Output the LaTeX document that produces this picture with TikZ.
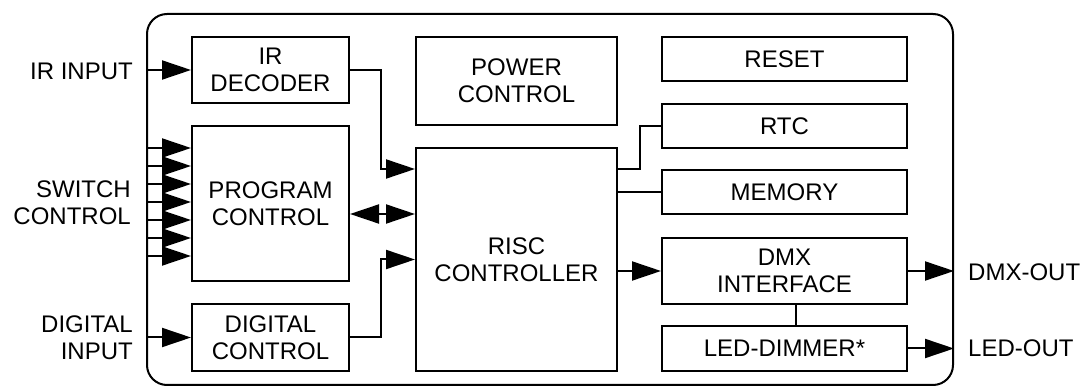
\documentclass[tikz,border=0pt]{standalone}
\usepackage{fontspec}
\setmainfont{Liberation Sans}
\usetikzlibrary{arrows.meta}

\tikzset{
  blk/.style={draw, line width=2pt, minimum width=157pt, inner sep=0pt, align=center},
  lbl/.style={inner sep=0pt},
  arr/.style={line width=2pt, -{Triangle[length=29pt,width=19pt]}},
  dblarr/.style={line width=2pt, {Triangle[length=29pt,width=19pt]}-{Triangle[length=29pt,width=19pt]}},
  wire/.style={line width=2pt}
}

\begin{document}
\begin{tikzpicture}[x=1pt,y=1pt,yscale=-1,xscale=1,font=\fontsize{24}{27}\selectfont]
\useasboundingbox (0,0) rectangle (1085,387);

%Shape: Rounded Rect [frame]
\node [draw, line width=2pt, rounded corners=20pt, minimum width=806pt, minimum height=371pt, inner sep=0pt] (frame) at (550,199.5) {};

%Shape: Blocks, left column
\node [blk, minimum height=66pt] (irdec) at (270.5,70) {IR\\DECODER};
\node [blk, minimum height=155pt] (prog) at (270.5,203.5) {PROGRAM\\CONTROL};
\node [blk, minimum height=67pt] (digi) at (270.5,337.5) {DIGITAL\\CONTROL};

%Shape: Blocks, middle column
\node [blk, minimum width=201pt, minimum height=88pt] (power) at (516.5,81) {POWER\\CONTROL};
\node [blk, minimum width=201pt, minimum height=223pt] (risc) at (516.5,259.5) {RISC\\CONTROLLER};

%Shape: Blocks, right column
\node [blk, minimum width=245pt, minimum height=44pt] (reset) at (784.5,59) {RESET};
\node [blk, minimum width=245pt, minimum height=44pt] (rtc) at (784.5,126) {RTC};
\node [blk, minimum width=245pt, minimum height=44pt] (mem) at (784.5,192.5) {MEMORY};
\node [blk, minimum width=245pt, minimum height=66pt] (dmx) at (784.5,271) {DMX\\INTERFACE};
\node [blk, minimum width=245pt, minimum height=45pt] (led) at (784.5,348.5) {LED-DIMMER*};

% Text Node
\node [lbl, anchor=east] (irin) at (133,71) {IR INPUT};
\node [lbl, anchor=east, align=right] (swin) at (131,203) {SWITCH\\CONTROL};
\node [lbl, anchor=east, align=right] (digin) at (133,338) {DIGITAL\\INPUT};
\node [lbl, anchor=west] (dmxout) at (968,272) {DMX-OUT};
\node [lbl, anchor=west] (ledout) at (968,348) {LED-OUT};

%Inputs
\draw [arr] (frame.west |- irdec.west) -- (irdec.west);
\foreach \i in {0,...,6} {
  \coordinate (sw\i) at (147,148+18*\i);
  \draw [arr] (sw\i) -- (prog.west |- sw\i);
}
\draw [arr] (frame.west |- digi.west) -- (digi.west);

%Into the controller
\coordinate (rin) at ([yshift=22pt]risc.north west);
\coordinate (rprog) at ([yshift=67pt]risc.north west);
\draw [arr] (irdec.east) -- ++(31,0) |- (rin);
\draw [dblarr] (prog.east |- rprog) -- (rprog);
\draw [arr] (digi.east) -- ++(31,0) |- (risc.west);

%Out of the controller
\coordinate (rout) at ([yshift=22pt]risc.north east);
\draw [wire] (rout) -- ++(22,0) |- (rtc.west);
\draw [wire] (risc.east |- mem.west) -- (mem.west);
\draw [arr] (risc.east |- dmx.west) -- (dmx.west);
\draw [wire] ([xshift=11.5pt]dmx.south) -- ([xshift=11.5pt]led.north);

%Outputs
\draw [arr] (dmx.east) -- (frame.east |- dmx.east);
\draw [arr] (led.east) -- (frame.east |- led.east);

\end{tikzpicture}
\end{document}
